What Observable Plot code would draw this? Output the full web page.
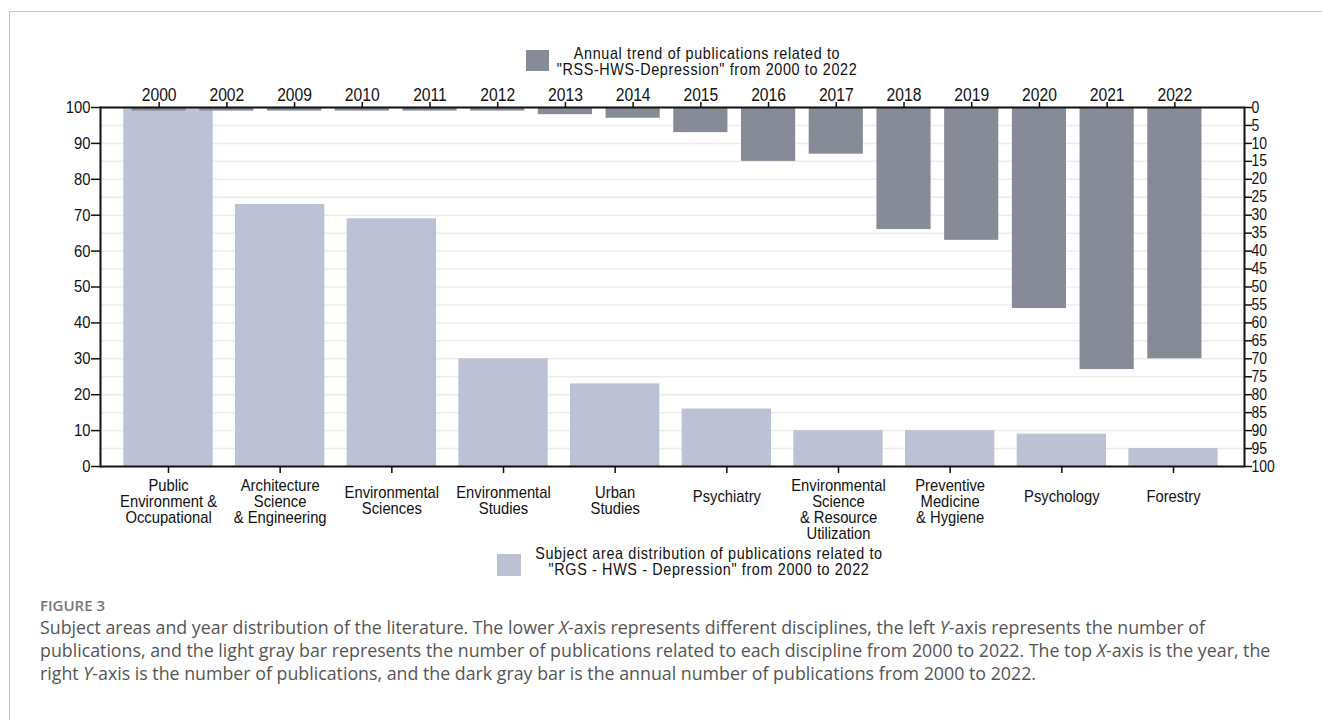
<!DOCTYPE html>
<html>
<head>
<meta charset="utf-8">
<script src="https://cdn.jsdelivr.net/npm/d3@7"></script>
<script src="https://cdn.jsdelivr.net/npm/@observablehq/plot@0.6"></script>
<style>
  body { margin: 0; background: #fff; }
  #wrap { position: relative; width: 1322px; height: 720px; overflow: hidden; background: #fff; }
  #frame { position: absolute; left: 9px; top: 11px; width: 1400px; height: 800px; border: 1.5px solid #c4c4c4; box-sizing: border-box; }
  #chart1, #chart2 { position: absolute; left: 0; top: 0; }
  .cond { font-family: "Liberation Sans Narrow", "Arial Narrow", "Liberation Sans", sans-serif; color: #111; }
  .sw { position: absolute; }
  .lt { position: absolute; font-size: 16.5px; line-height: 16px; text-align: center; letter-spacing: 0.75px; white-space: nowrap; transform: scaleX(0.87); transform-origin: center; }
  #fig { position: absolute; left: 40px; top: 595px; font-family: "Open Sans", sans-serif; font-size: 15px; line-height: 20px; font-weight: 600; color: #777; }
  #cap { position: absolute; left: 40px; top: 616px; font-family: "Open Sans", sans-serif; font-size: 17.8px; line-height: 23px; color: #555; white-space: nowrap; }
</style>
</head>
<body>
<div id="wrap">
  <div id="frame"></div>
  <div id="chart1"></div>
  <div id="chart2"></div>
  <div class="sw" style="left:526px;top:50px;width:23px;height:21px;background:#878b98;"></div>
  <div class="lt cond" style="left:457px;top:45px;width:500px;">Annual trend of publications related to<br>"RSS-HWS-Depression" from 2000 to 2022</div>
  <div class="sw" style="left:497px;top:554px;width:24px;height:22px;background:#bcc2d3;"></div>
  <div class="lt cond" style="left:459px;top:545px;width:500px;">Subject area distribution of publications related to<br>"RGS - HWS - Depression" from 2000 to 2022</div>
  <div id="fig">FIGURE 3</div>
  <div id="cap">Subject areas and year distribution of the literature. The lower <i>X</i>-axis represents different disciplines, the left <i>Y</i>-axis represents the number of<br>publications, and the light gray bar represents the number of publications related to each discipline from 2000 to 2022. The top <i>X</i>-axis is the year, the<br>right <i>Y</i>-axis is the number of publications, and the dark gray bar is the annual number of publications from 2000 to 2022.</div>
</div>
<script>
// ---- data ----
const subjects = [
  "Public\nEnvironment &\nOccupational",
  "Architecture\nScience\n& Engineering",
  "Environmental\nSciences",
  "Environmental\nStudies",
  "Urban\nStudies",
  "Psychiatry",
  "Environmental\nScience\n& Resource\nUtilization",
  "Preventive\nMedicine\n& Hygiene",
  "Psychology",
  "Forestry"
];
const subjectCounts = [100, 73, 69, 30, 23, 16, 10, 10, 9, 5];

const years = ["2000", "2002", "2009", "2010", "2011", "2012", "2013", "2014",
               "2015", "2016", "2017", "2018", "2019", "2020", "2021", "2022"];
const yearCounts = [1, 1, 1, 1, 1, 1, 2, 3, 7, 15, 13, 34, 37, 56, 73, 70];

const leftTicks = [0, 10, 20, 30, 40, 50, 60, 70, 80, 90, 100];
const rightTicks = [0, 5, 10, 15, 20, 25, 30, 35, 40, 45, 50, 55, 60, 65, 70, 75, 80, 85, 90, 95, 100];

// ---- build ----
const subjectData = subjects.map((s, i) => ({subject: s, count: subjectCounts[i]}));
const yearData = years.map((y, i) => ({year: y, count: yearCounts[i]}));

const W = 1322, H = 548;
const font = '"Liberation Sans Narrow", "Arial Narrow", "Liberation Sans", sans-serif';
const lines = s => s.split("\n").length;
const g3 = subjects.filter(s => lines(s) >= 3);
const g2 = subjects.filter(s => lines(s) === 2);
const g1 = subjects.filter(s => lines(s) === 1);

const common = {
  width: W, height: H,
  marginLeft: 100, marginRight: 78, marginTop: 107, marginBottom: H - 466,
  style: {fontFamily: font, fontSize: "17px", color: "#111", background: "transparent", overflow: "visible"}
};

const xAxisOpts = {anchor: "bottom", tickSize: 7, fontSize: 17, lineHeight: 0.94, strokeWidth: 1.5, label: null};

// horizontally condense SVG text (narrow face not installed)
function condense(svg, s) {
  svg.querySelectorAll("text").forEach(t => {
    const bb = t.getBBox();
    const anchor = getComputedStyle(t).textAnchor;
    const ax = anchor === "middle" ? bb.x + bb.width / 2 : anchor === "end" ? bb.x + bb.width : bb.x;
    const prev = t.getAttribute("transform") || "";
    t.setAttribute("transform", `${prev} translate(${ax},0) scale(${s},1) translate(${-ax},0)`);
  });
}

const p1 = Plot.plot({
  ...common,
  x: {domain: subjects, range: [101, 1240], padding: 0.2, round: false, axis: null},
  y: {domain: [0, 100], axis: null},
  marks: [
    Plot.gridY(rightTicks, {stroke: "#ececec", strokeOpacity: 1, strokeWidth: 1.5}),
    Plot.barY(subjectData, {x: "subject", y: "count", fill: "#bcc2d3"}),
    Plot.axisY(leftTicks, {anchor: "left", tickSize: 9, tickPadding: 1, fontSize: 17, strokeWidth: 1.5, label: null}),
    Plot.axisX(g3, {...xAxisOpts, tickPadding: 6}),
    Plot.axisX(g2, {...xAxisOpts, tickPadding: 13}),
    Plot.axisX(g1, {...xAxisOpts, tickPadding: 17}),
    Plot.ruleY([0], {stroke: "#111", strokeWidth: 2}),
    Plot.frame({anchor: "left", stroke: "#111", strokeWidth: 2})
  ]
});
document.getElementById("chart1").appendChild(p1);
condense(p1, 0.87);

const p2 = Plot.plot({
  ...common,
  x: {domain: years, range: [118, 1215], padding: 0.2, round: false, axis: null},
  y: {domain: [0, 100], reverse: true, axis: null},
  marks: [
    Plot.barY(yearData, {x: "year", y: "count", fill: "#878b98"}),
    Plot.axisX({anchor: "top", tickSize: 6, tickPadding: 1, fontSize: 18, strokeWidth: 1.5, label: null}),
    Plot.axisY(rightTicks, {anchor: "right", tickSize: 7, tickPadding: 0, fontSize: 16, strokeWidth: 1.5, label: null}),
    Plot.ruleY([0], {stroke: "#111", strokeWidth: 2}),
    Plot.frame({anchor: "right", stroke: "#111", strokeWidth: 2})
  ]
});
document.getElementById("chart2").appendChild(p2);
condense(p2, 0.87);
</script>
</body>
</html>
